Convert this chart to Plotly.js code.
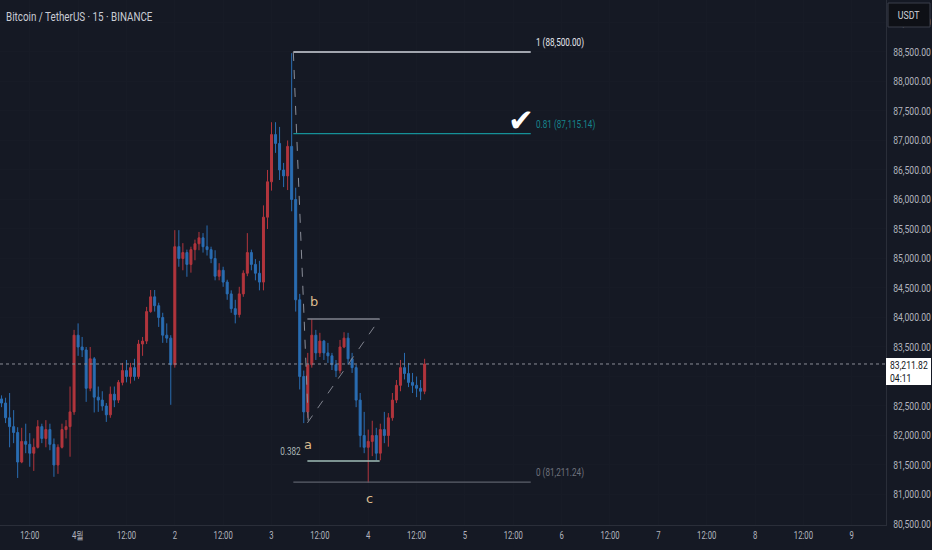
<!DOCTYPE html>
<html>
<head>
<meta charset="utf-8">
<script src="https://cdn.plot.ly/plotly-3.0.1.min.js"></script>
<style>
html,body{margin:0;padding:0;background:#151924;}
#chart{width:932px;height:550px;}
</style>
</head>
<body>
<div id="chart"></div>
<script>
// ---- DATA (hourly candles, BTC/USDT) ----
const candleStart = '2025-03-31T05:00:00Z';
const open  = [82620,82550,82300,82150,82050,81550,81900,81850,81700,81800,82150,81950,82100,81850,81500,81800,82100,82150,82400,
  83700,83500,83450,82800,83300,82650,82600,82500,82350,82700,82600,82900,83100,83000,83150,83000,83550,83600,84100,84350,84200,84000,83700,83650,
  83200,85200,85000,85100,84900,85150,85250,85350,85200,85150,85000,84700,84800,84600,84400,84150,84050,84400,84750,85100,84900,84750,
  84600,85700,86300,87100,86950,86500,86400,86900,86000,84300,83000,82400,83200,83700,83400,83600,83400,83350,83200,83100,83500,83650,83300,
  83150,82600,82000,81800,81900,82000,81700,82100,82000,82300,82600,82850,83150,83050,82900,82850,82800,82750];
const high  = [82680,82640,82720,82430,82140,82130,82200,82040,81950,82260,82200,82260,82200,81950,81850,82200,82260,82830,83790,
  83900,83670,83500,83500,83330,82830,82750,82550,82830,82830,82940,83230,83280,83230,83300,83620,83670,84180,84466,84466,84250,84080,83900,83700,
  85480,85480,85260,85150,85200,85320,85450,85430,85560,85200,85140,84920,84860,84640,84460,84300,84520,84800,85430,85150,84990,84960,
  85900,86500,87310,87310,87230,86620,87000,88480,86200,84400,83100,83400,83970,83790,83740,83620,83570,83400,83280,83620,83750,83740,83400,
  83200,82720,82400,82100,82250,82130,82200,82400,82380,82720,82940,83280,83400,83230,83060,83000,82940,83300];
const low   = [82480,82210,81800,81870,81280,81530,81700,81470,81400,81780,81870,81800,81750,81300,81350,81780,81950,81640,82350,
  83350,83330,82570,82750,82390,82400,82420,82230,82300,82480,82550,82850,82900,82880,82930,82960,83350,83550,84080,84100,83840,83570,83570,82520,
  83150,84860,84800,84690,84760,84970,85140,85100,85050,84920,84630,84630,84520,84300,84080,83900,84000,84350,84700,84800,84630,84460,
  84460,85500,86150,86790,86330,86210,86160,85800,84100,82780,82210,82300,83150,83280,83330,83280,83230,83110,82990,83050,83480,83200,83060,
  82480,81800,81700,81200,81650,81580,81580,81870,81810,82250,82550,82750,82950,82820,82720,82650,82600,82700];
const close = [82550,82300,82150,82050,81550,81900,81850,81700,81800,82150,81950,82100,81850,81500,81800,82100,82150,82400,83700,
  83500,83450,82800,83300,82650,82600,82500,82350,82700,82600,82900,83100,83000,83150,83000,83550,83600,84100,84350,84200,84000,83700,83650,83200,
  85200,85000,85100,84900,85150,85250,85350,85200,85150,85000,84700,84800,84600,84400,84150,84050,84400,84750,85100,84900,84750,84600,
  85700,86300,87100,86950,86500,86400,86900,86000,84300,83000,82400,83200,83700,83400,83600,83400,83350,83200,83100,83500,83650,83300,83150,
  82600,82000,81800,81900,82000,81700,82100,82000,82300,82600,82850,83150,83050,82900,82850,82800,82750,83211.82];

const lastPrice = 83211.82;
const lastPriceText = '83,211.82';
const countdownText = '04:11';

// x-axis ticks
const xTickVals = ['2025-03-31 12:00','2025-04-01 00:00','2025-04-01 12:00','2025-04-02 00:00','2025-04-02 12:00','2025-04-03 00:00',
  '2025-04-03 12:00','2025-04-04 00:00','2025-04-04 12:00','2025-04-05 00:00','2025-04-05 12:00','2025-04-06 00:00','2025-04-06 12:00',
  '2025-04-07 00:00','2025-04-07 12:00','2025-04-08 00:00','2025-04-08 12:00','2025-04-09 00:00'];
const xTickText = ['12:00','4월','12:00','2','12:00','3','12:00','4','12:00','5','12:00','6','12:00','7','12:00','8','12:00','9'];

// Fibonacci retracement
const fibRatios = ['1','0.81','0'];
const fibPrices = [88500.00, 87115.14, 81211.24];
const fibStart = '2025-04-03 05:25';
const fibEnd   = '2025-04-05 16:20';
const fibTrendEnd = '2025-04-03 09:08';
const fibTrendEndPrice = 82213;

// ABC wave construction
const abcStart = '2025-04-03 08:54';
const abcEnd   = '2025-04-04 02:50';
const bLevel = 83974;
const aLevel = 82213;
const level0382 = 81568;
const waveLabels = ['a','b','c'];
const waveTimes  = ['2025-04-03 09:08','2025-04-03 10:38','2025-04-04 00:18'];
const wavePrices = [81839, 84263, 80940];

// ---- build ----
const t0 = new Date(candleStart).getTime();
const times = open.map((_, i) => {
  const d = new Date(t0 + i * 3600 * 1000);
  return d.toISOString().slice(0,16).replace('T',' ');
});

const FONT = '"Roboto", "DejaVu Sans", sans-serif';
const RED = '#b2353d', BLUE = '#2a6db2';

const trace = {
  type: 'candlestick', x: times, open: open, high: high, low: low, close: close,
  increasing: {line: {color: RED, width: 1}, fillcolor: RED},
  decreasing: {line: {color: BLUE, width: 1}, fillcolor: BLUE},
  whiskerwidth: 0, hoverinfo: 'skip'
};

const fibColors = ['#d1d4dc', '#159097', '#5d606b'];
const fibTextColors = ['#e6e8ee', '#15858d', '#6f727d'];

const shapes = [];
fibPrices.forEach((p, i) => {
  shapes.push({type:'line', xref:'x', yref:'y', x0: fibStart, x1: fibEnd, y0: p, y1: p,
    line:{color: fibColors[i], width: 1.3}});
});
shapes.push({type:'line', xref:'x', yref:'y', x0: fibStart, x1: fibTrendEnd, y0: fibPrices[0], y1: fibTrendEndPrice,
  line:{color:'#8a8e99', width:1, dash:'dash'}});
shapes.push({type:'line', xref:'x', yref:'y', x0: abcStart, x1: abcEnd, y0: bLevel, y1: bLevel,
  line:{color:'#80838e', width:1.5}});
shapes.push({type:'line', xref:'x', yref:'y', x0: abcStart, x1: abcEnd, y0: level0382, y1: level0382,
  line:{color:'#9fbdb6', width:1.3}});
shapes.push({type:'line', xref:'x', yref:'y', x0: abcStart, x1: abcEnd, y0: aLevel, y1: bLevel,
  line:{color:'#80838e', width:1, dash:'dash'}});
shapes.push({type:'line', xref:'paper', yref:'y', x0: 0, x1: 1, y0: lastPrice, y1: lastPrice,
  line:{color:'#8a8d97', width:1, dash:'dot'}});
// USDT box and last price box on the price scale
shapes.push({type:'rect', xref:'paper', yref:'paper', x0: 888/886, x1: 930/886, y0: 1 - 27/525, y1: 1 - 3/525,
  fillcolor:'#0e1016', line:{color:'#3a3e4a', width:1}, layer:'above'});
shapes.push({type:'rect', xref:'paper', yref:'paper', x0: 886/886, x1: 931/886, y0: 1 - 385/525, y1: 1 - 358/525,
  fillcolor:'#ffffff', line:{width:0}, layer:'above'});

const annotations = [];
const squeeze = [];
fibPrices.forEach((p, i) => {
  const label = fibRatios[i] + ' (' + p.toLocaleString('en-US', {minimumFractionDigits:2, maximumFractionDigits:2}) + ')';
  annotations.push({xref:'x', yref:'y', x: fibEnd, y: p, text: label, showarrow:false,
    xanchor:'left', yanchor:'bottom', align:'left', xshift: 3, yshift: 1,
    font:{family: FONT, size: 11, color: fibTextColors[i]}});
  squeeze.push(0.74);
});
annotations.push({xref:'x', yref:'y', x: '2025-04-05 13:50', y: fibPrices[1], text:'✔', showarrow:false,
  xanchor:'center', yanchor:'bottom', yshift:-6, font:{family:'DejaVu Sans', size: 31, color:'#ffffff', weight: 'bold'}});
squeeze.push(1);
waveLabels.forEach((l, i) => {
  annotations.push({xref:'x', yref:'y', x: waveTimes[i], y: wavePrices[i], text: l, showarrow:false,
    xanchor:'center', yanchor:'middle', font:{family:'"DejaVu Sans", sans-serif', size: 13, color:'#dcbc8e'}});
  squeeze.push(1);
});
annotations.push({xref:'x', yref:'y', x: '2025-04-03 07:54', y: 81737, text:'0.382', showarrow:false,
  xanchor:'right', yanchor:'middle', align:'right', font:{family: FONT, size: 11, color:'#aab7b6'}});
squeeze.push(0.74);
annotations.push({xref:'paper', yref:'paper', x: 0.005, y: 0.985, text:'Bitcoin / TetherUS · 15 · BINANCE', showarrow:false,
  xanchor:'left', yanchor:'top', align:'left', font:{family: FONT, size: 12, color:'#c9ccd4'}});
squeeze.push(0.82);
annotations.push({xref:'paper', yref:'paper', x: 909/886, y: 1 - 15/525, text:'USDT', showarrow:false,
  xanchor:'center', yanchor:'middle', font:{family: FONT, size: 11, color:'#d1d4dc'}});
squeeze.push(0.8);
annotations.push({xref:'paper', yref:'paper', x: 888/886, y: 1 - 365/525, text: lastPriceText, showarrow:false,
  xanchor:'left', yanchor:'middle', align:'left', font:{family: FONT, size: 11, color:'#131722'}});
squeeze.push(0.78);
annotations.push({xref:'paper', yref:'paper', x: 888/886, y: 1 - 378/525, text: countdownText, showarrow:false,
  xanchor:'left', yanchor:'middle', align:'left', font:{family: FONT, size: 11, color:'#131722'}});
squeeze.push(0.78);

const layout = {
  width: 932, height: 550,
  margin: {l: 0, r: 46, t: 0, b: 25},
  paper_bgcolor: '#151924', plot_bgcolor: '#151924',
  showlegend: false,
  xaxis: {
    type: 'date', range: ['2025-03-31 04:37', '2025-04-09 08:30'],
    rangeslider: {visible: false},
    tickmode: 'array', tickvals: xTickVals, ticktext: xTickText,
    tickfont: {family: FONT, size: 11, color: '#b2b5be'},
    showgrid: true, gridcolor: '#171b26', zeroline: false,
    showline: true, linecolor: '#2a2e39', linewidth: 1, ticks: '', fixedrange: true
  },
  yaxis: {
    side: 'right', range: [80483, 89381], dtick: 500, tick0: 0, tickformat: ',.2f',
    tickfont: {family: FONT, size: 11, color: '#b2b5be'},
    showgrid: true, gridcolor: '#171b26', zeroline: false,
    showline: true, linecolor: '#2a2e39', linewidth: 1, ticks: '', ticklabelstandoff: 4, fixedrange: true
  },
  shapes: shapes,
  annotations: annotations
};

function condense(el, ratio) {
  if (ratio >= 1) return;
  const L = el.getComputedTextLength();
  if (!L) return;
  el.setAttribute('textLength', (L * ratio).toFixed(2));
  el.setAttribute('lengthAdjust', 'spacingAndGlyphs');
}

Plotly.newPlot('chart', [trace], layout, {displayModeBar: false, staticPlot: true}).then(gd => {
  gd.querySelectorAll('g.ytick text').forEach(t => condense(t, 0.78));
  gd.querySelectorAll('g.xtick text').forEach(t => condense(t, 0.7));
  gd.querySelectorAll('g.annotation').forEach(g => {
    const i = +g.getAttribute('data-index');
    const t = g.querySelector('text.annotation-text');
    if (t && squeeze[i] !== undefined) condense(t, squeeze[i]);
  });
});
</script>
</body>
</html>
